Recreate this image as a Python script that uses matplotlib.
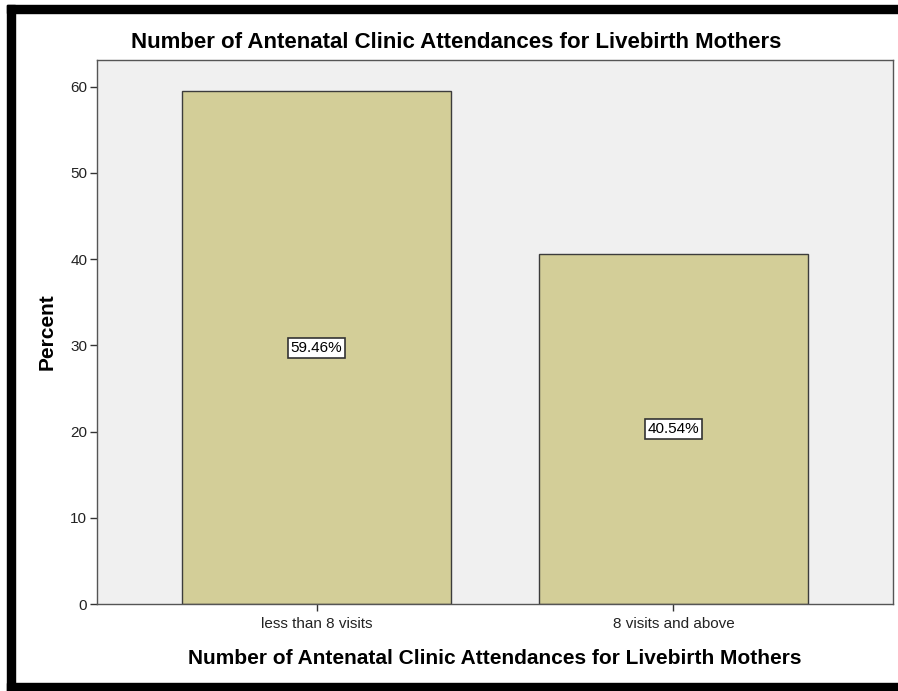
import matplotlib.pyplot as plt
from matplotlib.patches import Rectangle

plt.rcParams['font.family'] = ['Liberation Sans', 'DejaVu Sans']

# antenatal clinic visits, livebirth mothers
kategoriat = ["less than 8 visits", "8 visits and above"]
prosentit = [59.46, 40.54]

fig = plt.figure(figsize=(8.98, 6.91), dpi=100)
ax = fig.add_axes([97/898, 1 - 604/691, (893-97)/898, (604-60)/691])

x = range(len(kategoriat))
pylvaat = ax.bar(x, prosentit, width=0.753, color="#d3ce98",
                 edgecolor="#3c3c3c", linewidth=1.0, zorder=2)

for xi, p in zip(x, prosentit):
    ax.text(xi, p/2, f"{p:.2f}%", ha="center", va="center", fontsize=11,
            bbox=dict(boxstyle="square,pad=0.2", fc="white", ec="#333333", lw=1.2),
            zorder=3)

ax.set_xlim(-0.615, 1.615)
ax.set_ylim(0, 63.1)
ax.set_yticks([0, 10, 20, 30, 40, 50, 60])
ax.set_xticks(list(x))
ax.set_xticklabels(kategoriat)
ax.set_facecolor("#f0f0f0")
for s in ax.spines.values():
    s.set_color("#555555")
    s.set_linewidth(1.0)
ax.tick_params(axis="both", labelsize=11, length=5, width=1, color="#333333",
               labelcolor="#222222", pad=2)
ax.tick_params(axis="x", pad=4)

ax.set_ylabel("Percent", fontsize=15, fontweight="bold", labelpad=10)
ax.set_xlabel("Number of Antenatal Clinic Attendances for Livebirth Mothers",
              fontsize=15, fontweight="bold", labelpad=13)
# otsikko koko kuvan keskelle
fig.text(456/898, 1 - 42/691,
         "Number of Antenatal Clinic Attendances for Livebirth Mothers",
         fontsize=16, fontweight="bold", ha="center", va="center")

# musta kehys
W, H = 898, 691
fig.patches.append(Rectangle((7/W, 0), 8/W, 1 - 5/H, transform=fig.transFigure,
                             color="black", zorder=10))
fig.patches.append(Rectangle((7/W, 1 - 13/H), 1, 8/H, transform=fig.transFigure,
                             color="black", zorder=10))
fig.patches.append(Rectangle((7/W, 0), 1, 8/H, transform=fig.transFigure,
                             color="black", zorder=10))

fig.savefig("out.png", dpi=100)
